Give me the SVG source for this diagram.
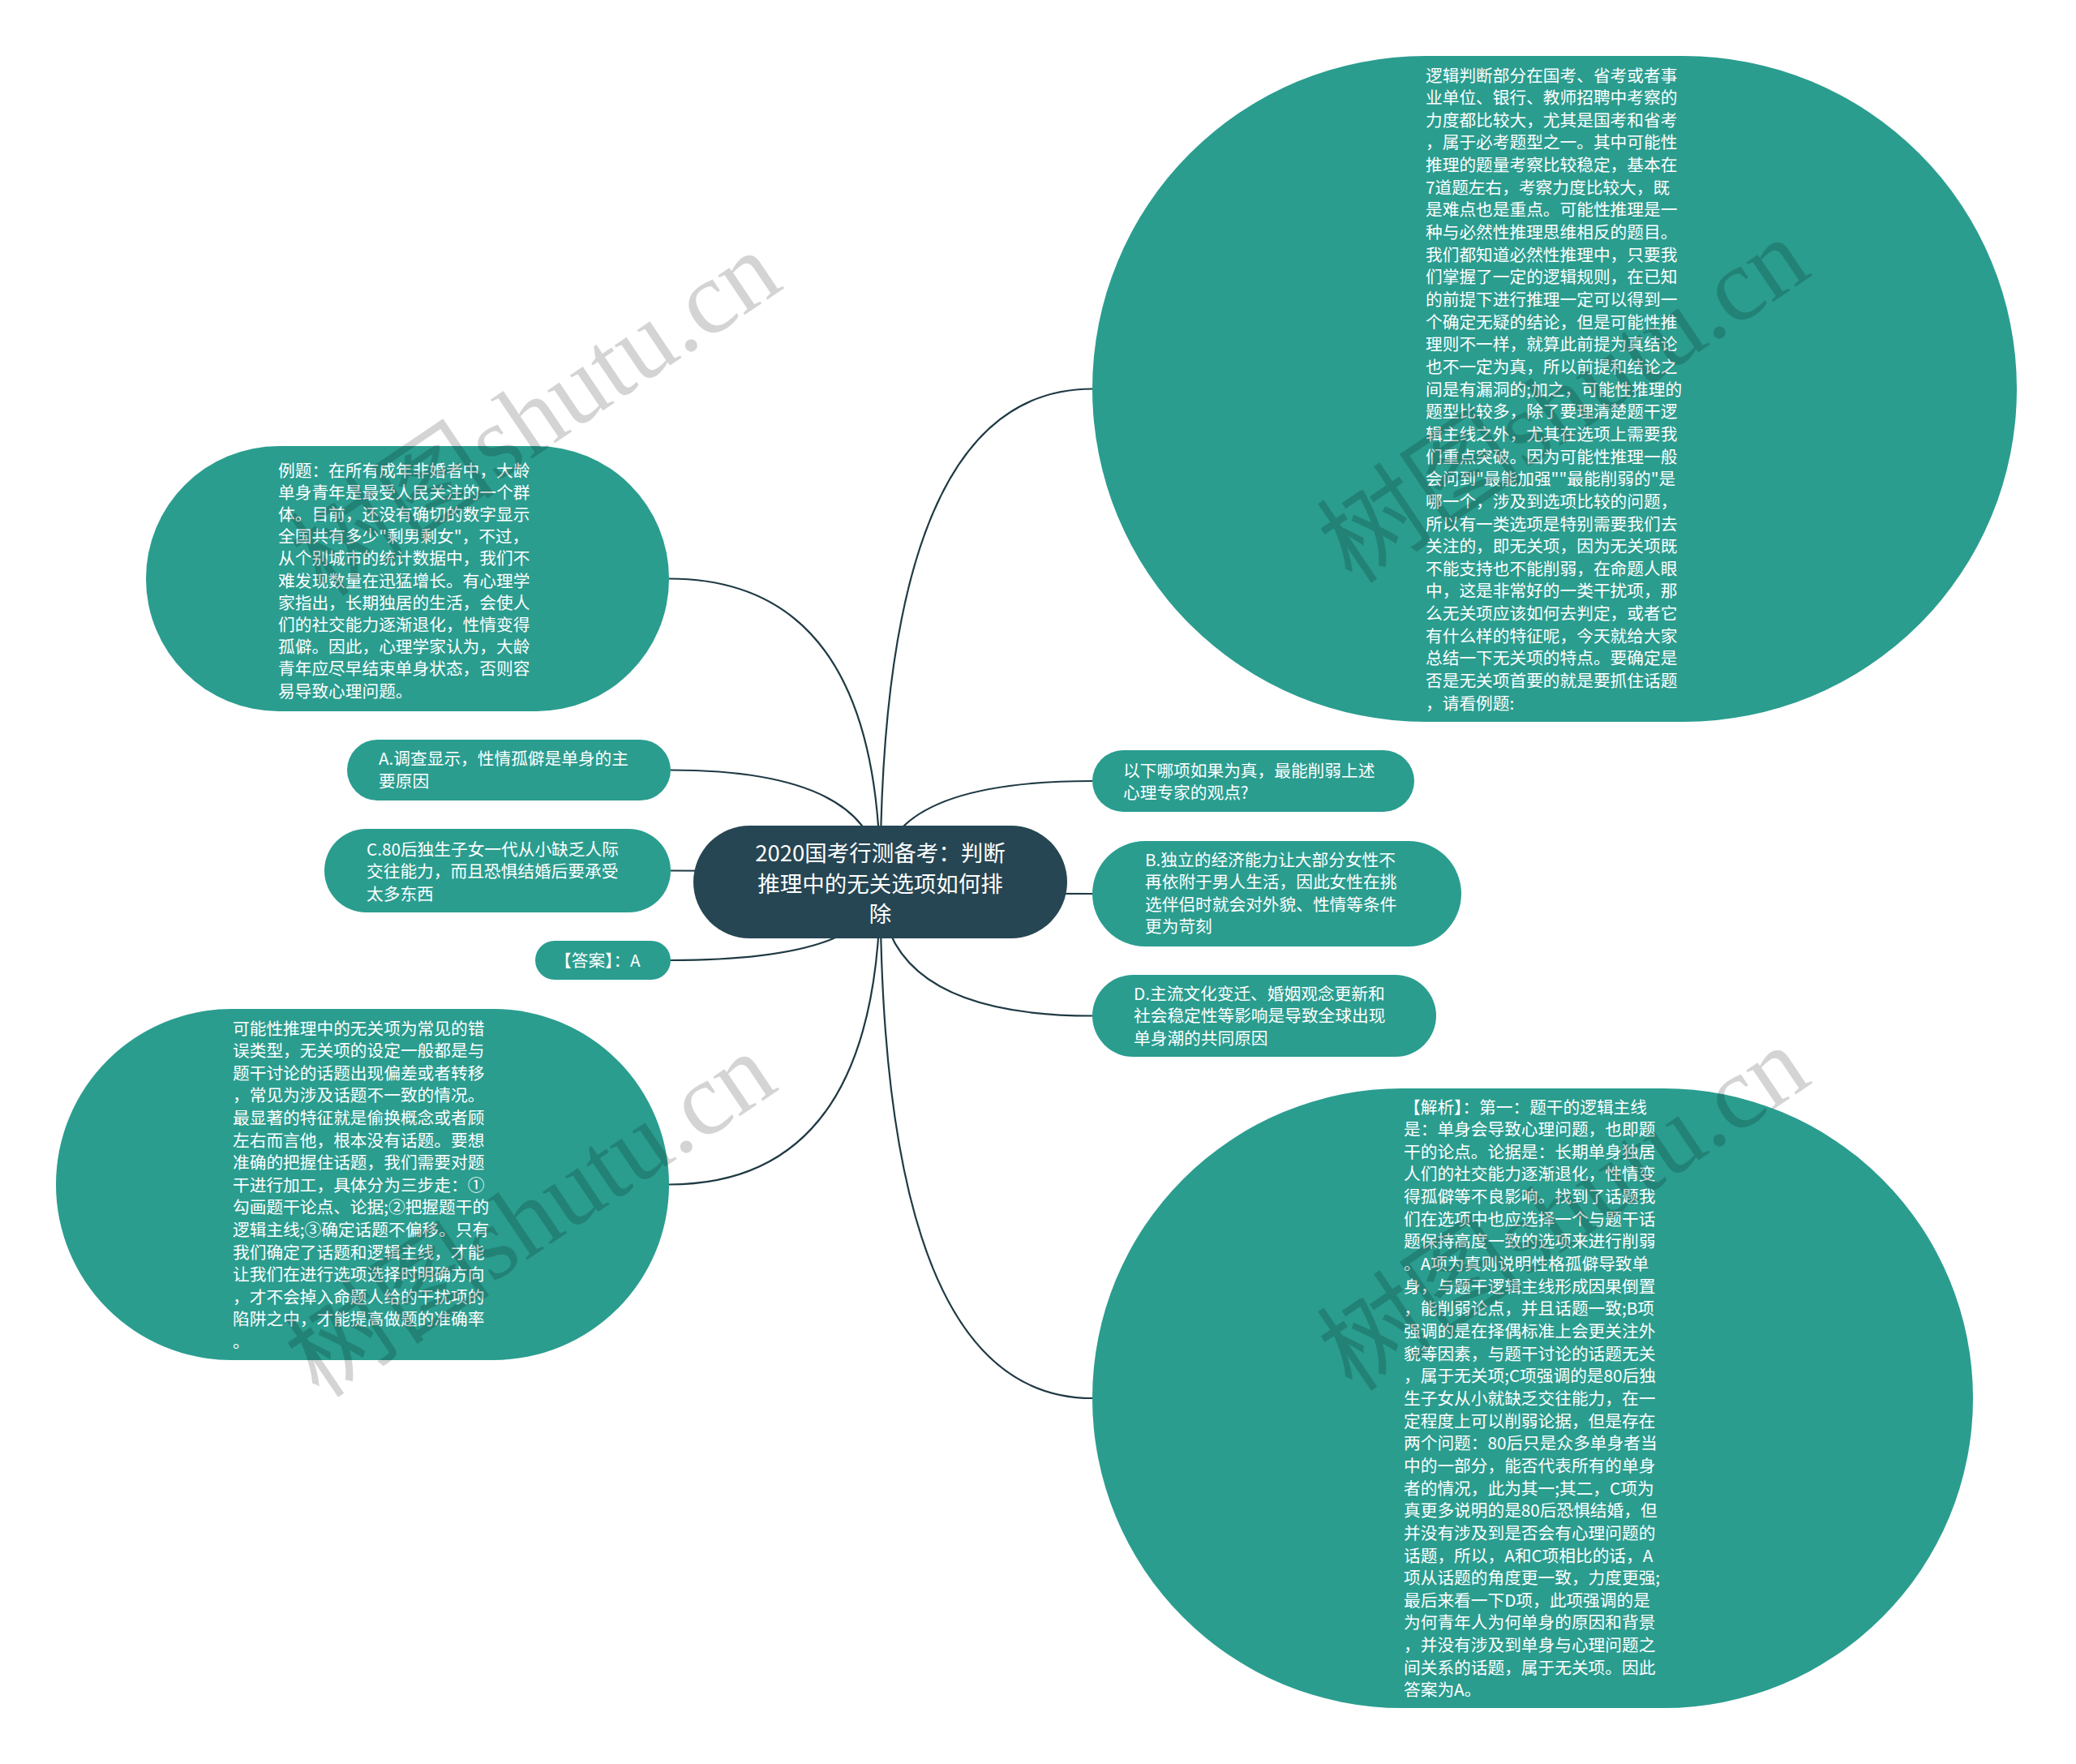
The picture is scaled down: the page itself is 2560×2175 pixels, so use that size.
<svg xmlns="http://www.w3.org/2000/svg" width="2560" height="2175" viewBox="0 0 2560 2175">
<style>
.node{fill:#2a9d8f;}
.root{fill:#264653;}
.t{font-family:"Noto Sans CJK SC","Noto Sans",sans-serif;font-size:20.7px;fill:#ffffff;}
.rt{font-family:"Noto Sans CJK SC","Noto Sans",sans-serif;font-size:27.5px;fill:#ffffff;text-anchor:middle;}
.ln{fill:none;stroke:#1f3a44;stroke-width:2.2;}
.wm{font-family:"Liberation Serif","Noto Sans CJK SC",serif;font-size:128px;fill:#000000;fill-opacity:0.17;}
</style>
<rect width="2560" height="2175" fill="#ffffff"/>
<g id="connectors">
<path class="ln" d="M1085.5 1087.5 Q1085.5 479.5 1347 479.5"/>
<path class="ln" d="M1085.5 1087.5 Q1085.5 963 1347 963"/>
<path class="ln" d="M1085.5 1087.5 Q1085.5 1102 1347 1102"/>
<path class="ln" d="M1085.5 1087.5 Q1085.5 1252.5 1347 1252.5"/>
<path class="ln" d="M1085.5 1087.5 Q1085.5 1724 1347 1724"/>
<path class="ln" d="M1085.5 1087.5 Q1085.5 713.5 825 713.5"/>
<path class="ln" d="M1085.5 1087.5 Q1085.5 949.5 827 949.5"/>
<path class="ln" d="M1085.5 1087.5 Q1085.5 1073.5 827 1073.5"/>
<path class="ln" d="M1085.5 1087.5 Q1085.5 1184 827 1184"/>
<path class="ln" d="M1085.5 1087.5 Q1085.5 1460.5 825 1460.5"/>
</g>
<g id="root">
<rect class="root" x="855" y="1018" width="461" height="139" rx="69.5"/>
<text class="rt"><tspan x="1085.5" y="1062">2020国考行测备考：判断</tspan><tspan x="1085.5" y="1099.5">推理中的无关选项如何排</tspan><tspan x="1085.5" y="1137">除</tspan></text>
</g>
<g id="node-intro">
<rect class="node" x="1347" y="69" width="1140" height="821" rx="410.5"/>
<text class="t">
<tspan x="1758" y="100.5">逻辑判断部分在国考、省考或者事</tspan>
<tspan x="1758" y="128.15">业单位、银行、教师招聘中考察的</tspan>
<tspan x="1758" y="155.8">力度都比较大，尤其是国考和省考</tspan>
<tspan x="1758" y="183.45">，属于必考题型之一。其中可能性</tspan>
<tspan x="1758" y="211.1">推理的题量考察比较稳定，基本在</tspan>
<tspan x="1758" y="238.75">7道题左右，考察力度比较大，既</tspan>
<tspan x="1758" y="266.4">是难点也是重点。可能性推理是一</tspan>
<tspan x="1758" y="294.05">种与必然性推理思维相反的题目。</tspan>
<tspan x="1758" y="321.7">我们都知道必然性推理中，只要我</tspan>
<tspan x="1758" y="349.35">们掌握了一定的逻辑规则，在已知</tspan>
<tspan x="1758" y="377">的前提下进行推理一定可以得到一</tspan>
<tspan x="1758" y="404.65">个确定无疑的结论，但是可能性推</tspan>
<tspan x="1758" y="432.3">理则不一样，就算此前提为真结论</tspan>
<tspan x="1758" y="459.95">也不一定为真，所以前提和结论之</tspan>
<tspan x="1758" y="487.6">间是有漏洞的;加之，可能性推理的</tspan>
<tspan x="1758" y="515.25">题型比较多，除了要理清楚题干逻</tspan>
<tspan x="1758" y="542.9">辑主线之外，尤其在选项上需要我</tspan>
<tspan x="1758" y="570.55">们重点突破。因为可能性推理一般</tspan>
<tspan x="1758" y="598.2">会问到"最能加强""最能削弱的"是</tspan>
<tspan x="1758" y="625.85">哪一个，涉及到选项比较的问题，</tspan>
<tspan x="1758" y="653.5">所以有一类选项是特别需要我们去</tspan>
<tspan x="1758" y="681.15">关注的，即无关项，因为无关项既</tspan>
<tspan x="1758" y="708.8">不能支持也不能削弱，在命题人眼</tspan>
<tspan x="1758" y="736.45">中，这是非常好的一类干扰项，那</tspan>
<tspan x="1758" y="764.1">么无关项应该如何去判定，或者它</tspan>
<tspan x="1758" y="791.75">有什么样的特征呢，今天就给大家</tspan>
<tspan x="1758" y="819.4">总结一下无关项的特点。要确定是</tspan>
<tspan x="1758" y="847.05">否是无关项首要的就是要抓住话题</tspan>
<tspan x="1758" y="874.7">，请看例题:</tspan>
</text>
</g>
<g id="node-example">
<rect class="node" x="180" y="550" width="645" height="327" rx="163.5"/>
<text class="t">
<tspan x="343" y="587.5">例题：在所有成年非婚者中，大龄</tspan>
<tspan x="343" y="614.7">单身青年是最受人民关注的一个群</tspan>
<tspan x="343" y="641.9">体。目前，还没有确切的数字显示</tspan>
<tspan x="343" y="669.1">全国共有多少"剩男剩女"，不过，</tspan>
<tspan x="343" y="696.3">从个别城市的统计数据中，我们不</tspan>
<tspan x="343" y="723.5">难发现数量在迅猛增长。有心理学</tspan>
<tspan x="343" y="750.7">家指出，长期独居的生活，会使人</tspan>
<tspan x="343" y="777.9">们的社交能力逐渐退化，性情变得</tspan>
<tspan x="343" y="805.1">孤僻。因此，心理学家认为，大龄</tspan>
<tspan x="343" y="832.3">青年应尽早结束单身状态，否则容</tspan>
<tspan x="343" y="859.5">易导致心理问题。</tspan>
</text>
</g>
<g id="node-a">
<rect class="node" x="428" y="912" width="399" height="75" rx="37.5"/>
<text class="t"><tspan x="467" y="942.5">A.调查显示，性情孤僻是单身的主</tspan><tspan x="467" y="970.5">要原因</tspan></text>
</g>
<g id="node-c">
<rect class="node" x="400" y="1022" width="427" height="103" rx="51.5"/>
<text class="t"><tspan x="452" y="1054.5">C.80后独生子女一代从小缺乏人际</tspan><tspan x="452" y="1082">交往能力，而且恐惧结婚后要承受</tspan><tspan x="452" y="1109.5">太多东西</tspan></text>
</g>
<g id="node-answer">
<rect class="node" x="660" y="1160" width="167" height="48" rx="24"/>
<text class="t"><tspan x="684" y="1191.5">【答案】：A</tspan></text>
</g>
<g id="node-question">
<rect class="node" x="1347" y="925" width="397" height="76" rx="38"/>
<text class="t"><tspan x="1385" y="957.5">以下哪项如果为真，最能削弱上述</tspan><tspan x="1385" y="984.5">心理专家的观点?</tspan></text>
</g>
<g id="node-b">
<rect class="node" x="1347" y="1037" width="455" height="130" rx="65"/>
<text class="t"><tspan x="1412" y="1067.5">B.独立的经济能力让大部分女性不</tspan><tspan x="1412" y="1095">再依附于男人生活，因此女性在挑</tspan><tspan x="1412" y="1122.5">选伴侣时就会对外貌、性情等条件</tspan><tspan x="1412" y="1150">更为苛刻</tspan></text>
</g>
<g id="node-d">
<rect class="node" x="1347" y="1202" width="424" height="101" rx="50.5"/>
<text class="t"><tspan x="1398" y="1232.5">D.主流文化变迁、婚姻观念更新和</tspan><tspan x="1398" y="1260">社会稳定性等影响是导致全球出现</tspan><tspan x="1398" y="1287.5">单身潮的共同原因</tspan></text>
</g>
<g id="node-irrelevant">
<rect class="node" x="69" y="1244" width="756" height="433" rx="216.5"/>
<text class="t">
<tspan x="287" y="1275.5">可能性推理中的无关项为常见的错</tspan>
<tspan x="287" y="1303.1">误类型，无关项的设定一般都是与</tspan>
<tspan x="287" y="1330.7">题干讨论的话题出现偏差或者转移</tspan>
<tspan x="287" y="1358.3">，常见为涉及话题不一致的情况。</tspan>
<tspan x="287" y="1385.9">最显著的特征就是偷换概念或者顾</tspan>
<tspan x="287" y="1413.5">左右而言他，根本没有话题。要想</tspan>
<tspan x="287" y="1441.1">准确的把握住话题，我们需要对题</tspan>
<tspan x="287" y="1468.7">干进行加工，具体分为三步走：①</tspan>
<tspan x="287" y="1496.3">勾画题干论点、论据;②把握题干的</tspan>
<tspan x="287" y="1523.9">逻辑主线;③确定话题不偏移。只有</tspan>
<tspan x="287" y="1551.5">我们确定了话题和逻辑主线，才能</tspan>
<tspan x="287" y="1579.1">让我们在进行选项选择时明确方向</tspan>
<tspan x="287" y="1606.7">，才不会掉入命题人给的干扰项的</tspan>
<tspan x="287" y="1634.3">陷阱之中，才能提高做题的准确率</tspan>
<tspan x="287" y="1661.9">。</tspan>
</text>
</g>
<g id="node-analysis">
<rect class="node" x="1347" y="1342" width="1086" height="764" rx="382"/>
<text class="t">
<tspan x="1731" y="1372.5">【解析】：第一：题干的逻辑主线</tspan>
<tspan x="1731" y="1400.15">是：单身会导致心理问题，也即题</tspan>
<tspan x="1731" y="1427.8">干的论点。论据是：长期单身独居</tspan>
<tspan x="1731" y="1455.45">人们的社交能力逐渐退化，性情变</tspan>
<tspan x="1731" y="1483.1">得孤僻等不良影响。找到了话题我</tspan>
<tspan x="1731" y="1510.75">们在选项中也应选择一个与题干话</tspan>
<tspan x="1731" y="1538.4">题保持高度一致的选项来进行削弱</tspan>
<tspan x="1731" y="1566.05">。A项为真则说明性格孤僻导致单</tspan>
<tspan x="1731" y="1593.7">身，与题干逻辑主线形成因果倒置</tspan>
<tspan x="1731" y="1621.35">，能削弱论点，并且话题一致;B项</tspan>
<tspan x="1731" y="1649">强调的是在择偶标准上会更关注外</tspan>
<tspan x="1731" y="1676.65">貌等因素，与题干讨论的话题无关</tspan>
<tspan x="1731" y="1704.3">，属于无关项;C项强调的是80后独</tspan>
<tspan x="1731" y="1731.95">生子女从小就缺乏交往能力，在一</tspan>
<tspan x="1731" y="1759.6">定程度上可以削弱论据，但是存在</tspan>
<tspan x="1731" y="1787.25">两个问题：80后只是众多单身者当</tspan>
<tspan x="1731" y="1814.9">中的一部分，能否代表所有的单身</tspan>
<tspan x="1731" y="1842.55">者的情况，此为其一;其二，C项为</tspan>
<tspan x="1731" y="1870.2">真更多说明的是80后恐惧结婚，但</tspan>
<tspan x="1731" y="1897.85">并没有涉及到是否会有心理问题的</tspan>
<tspan x="1731" y="1925.5">话题，所以，A和C项相比的话，A</tspan>
<tspan x="1731" y="1953.15">项从话题的角度更一致，力度更强;</tspan>
<tspan x="1731" y="1980.8">最后来看一下D项，此项强调的是</tspan>
<tspan x="1731" y="2008.45">为何青年人为何单身的原因和背景</tspan>
<tspan x="1731" y="2036.1">，并没有涉及到单身与心理问题之</tspan>
<tspan x="1731" y="2063.75">间关系的话题，属于无关项。因此</tspan>
<tspan x="1731" y="2091.4">答案为A。</tspan>
</text>
</g>
<g id="watermarks">
<text class="wm" transform="translate(400 738) rotate(-34)">树图shutu.cn</text>
<text class="wm" transform="translate(1668 722) rotate(-34)">树图shutu.cn</text>
<text class="wm" transform="translate(394 1726) rotate(-34)">树图shutu.cn</text>
<text class="wm" transform="translate(1668 1718) rotate(-34)">树图shutu.cn</text>
</g>
</svg>
